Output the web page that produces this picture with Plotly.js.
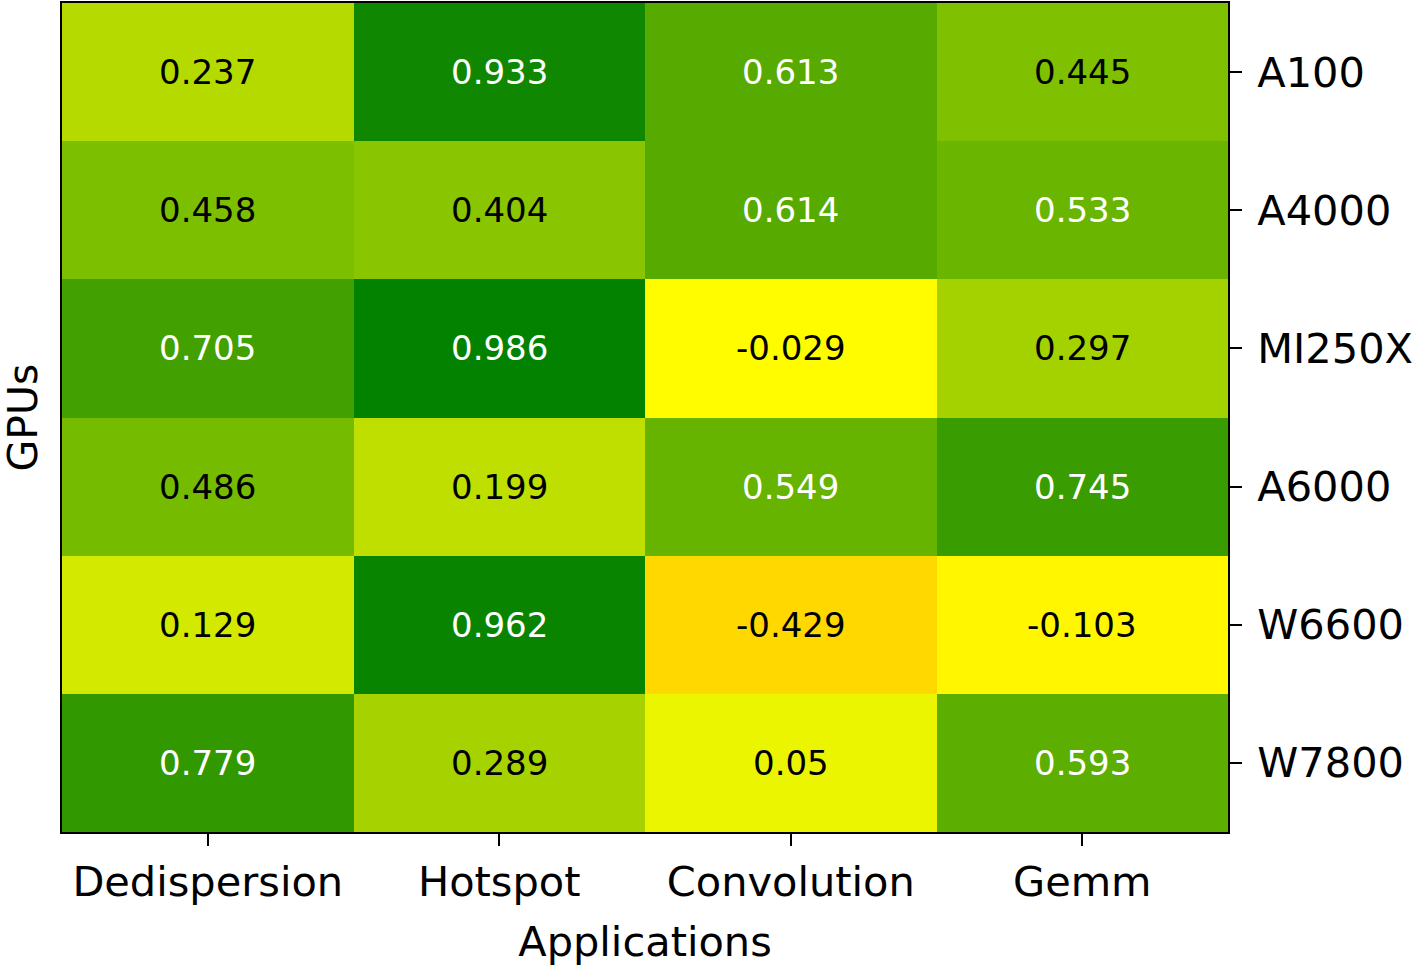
<!DOCTYPE html>
<html>
<head>
<meta charset="utf-8">
<script src="https://cdn.plot.ly/plotly-3.0.1.min.js"></script>
<style>html,body{margin:0;padding:0;background:#fff;}#chart{width:1416px;height:966px;}</style>
</head>
<body>
<div id="chart"></div>
<script>
const applications = ["Dedispersion", "Hotspot", "Convolution", "Gemm"];
const gpus = ["A100", "A4000", "MI250X", "A6000", "W6600", "W7800"];
const a100 = [0.237, 0.933, 0.613, 0.445];
const a4000 = [0.458, 0.404, 0.614, 0.533];
const mi250x = [0.705, 0.986, -0.029, 0.297];
const a6000 = [0.486, 0.199, 0.549, 0.745];
const w6600 = [0.129, 0.962, -0.429, -0.103];
const w7800 = [0.779, 0.289, 0.05, 0.593];
const values = [a100, a4000, mi250x, a6000, w6600, w7800];

// colour scale: orange (-1) -> yellow (0) -> green (1), slightly non-linear on the positive side
const zMin = -1, zMax = 1;
const posStops = [0, 0.05, 0.1, 0.2, 0.3, 0.4, 0.5, 0.6, 0.7, 0.8, 0.9, 1];
const colorscale = [[0, "rgb(255,165,0)"]];
posStops.forEach(v => {
  const t = Math.pow(v, 0.85);
  const r = Math.round(255 * (1 - t));
  const g = Math.round(255 - 127 * t);
  colorscale.push([(v - zMin) / (zMax - zMin), `rgb(${r},${g},0)`]);
});

const font = "DejaVu Sans, sans-serif";
const annotations = [];
gpus.forEach((g, i) => {
  applications.forEach((a, j) => {
    const v = values[i][j];
    annotations.push({
      x: a, y: g, xref: "x", yref: "y", text: String(v), showarrow: false,
      font: {family: font, size: 34, color: v > 0.5 ? "#ffffff" : "#000000"}
    });
  });
});
annotations.push({
  xref: "paper", yref: "paper", x: 0, y: 0.5, xanchor: "center", yanchor: "middle",
  xshift: -40, text: "GPUs", textangle: -90, showarrow: false,
  font: {family: font, size: 41, color: "#000"}
});

const trace = {
  type: "heatmap",
  x: applications,
  y: gpus,
  z: values,
  zmin: zMin, zmax: zMax,
  colorscale: colorscale,
  showscale: false,
  hoverinfo: "skip",
  xgap: 0, ygap: 0
};

const layout = {
  width: 1416, height: 966,
  margin: {l: 62, r: 188, t: 3, b: 134, pad: 0},
  paper_bgcolor: "#fff", plot_bgcolor: "#fff",
  font: {family: font, size: 41, color: "#000"},
  xaxis: {
    type: "category", showline: true, mirror: true, linecolor: "#000", linewidth: 2,
    ticks: "outside", ticklen: 12, tickwidth: 2, tickcolor: "#000",
    showgrid: false, zeroline: false,
    tickfont: {family: font, size: 41.5, color: "#000"},
    title: {text: "Applications", font: {family: font, size: 41.5, color: "#000"}, standoff: 22}
  },
  yaxis: {
    type: "category", side: "right", autorange: "reversed",
    showline: true, mirror: true, linecolor: "#000", linewidth: 2,
    ticks: "outside", ticklen: 12, tickwidth: 2, tickcolor: "#000",
    ticklabelstandoff: 7,
    showgrid: false, zeroline: false,
    tickfont: {family: font, size: 41.5, color: "#000"}
  },
  annotations: annotations
};

Plotly.newPlot("chart", [trace], layout, {displayModeBar: false, staticPlot: true});
</script>
</body>
</html>
